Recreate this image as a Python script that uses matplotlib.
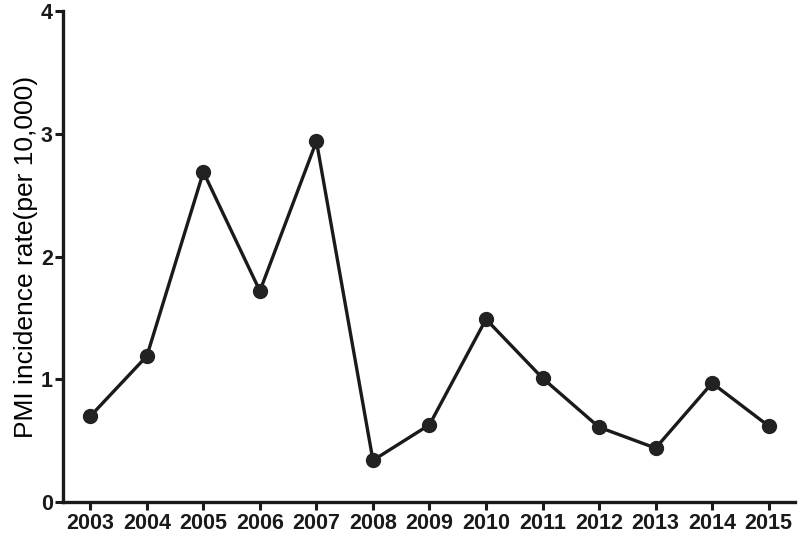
import matplotlib
matplotlib.use("Agg")
import matplotlib.pyplot as plt

years = [2003, 2004, 2005, 2006, 2007, 2008, 2009, 2010, 2011, 2012, 2013, 2014, 2015]
rates = [0.70, 1.19, 2.69, 1.72, 2.94, 0.34, 0.63, 1.49, 1.01, 0.61, 0.44, 0.97, 0.62]

plt.rcParams['font.family'] = ['Liberation Sans', 'DejaVu Sans']

fig = plt.figure(figsize=(8, 5.33), dpi=100)
ax = fig.add_axes([0.079, 0.058, 0.915, 0.921])

ax.plot(years, rates, color='#1a1a1a', lw=2.4, marker='o', ms=10, mfc='#222222', mec='#222222')

ax.set_xlim(2002.52, 2015.47)
ax.set_ylim(0, 4)
ax.set_xticks(years)
ax.set_yticks([0, 1, 2, 3, 4])
ax.set_ylabel('PMI incidence rate(per 10,000)', fontsize=19, labelpad=2)

for s in ['top', 'right']:
    ax.spines[s].set_visible(False)
for s in ['left', 'bottom']:
    ax.spines[s].set_linewidth(2.4)
    ax.spines[s].set_color('#1a1a1a')

ax.tick_params(width=2.2, length=6, colors='#1a1a1a', labelsize=15.5, pad=1.5)
for lbl in ax.get_xticklabels() + ax.get_yticklabels():
    lbl.set_fontweight('bold')

fig.savefig('out.png', dpi=100)
